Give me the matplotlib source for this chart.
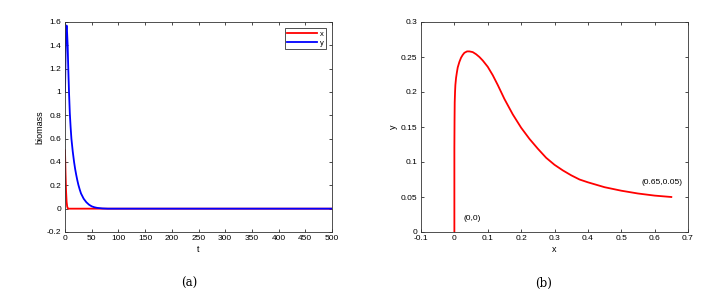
import matplotlib.pyplot as plt

plt.rcParams['font.family'] = ['Liberation Sans', 'DejaVu Sans']

# panel (a): biomass over time
t_x = [0, 0.5, 1, 2, 3, 4, 5, 6, 100, 500]
x_vals = [0.5, 0.4, 0.3, 0.15, 0.06, 0.02, 0.005, 0.0, 0.0, 0.0]
t_y = [0, 0.5, 1, 1.5, 2, 2.5, 3, 3.5, 4, 5, 6, 7.5, 9, 10.5, 12, 14.5, 17, 19, 21, 23, 25, 27.5,
       30, 35, 40, 45, 50, 55, 60, 70, 80, 500]
y_vals = [1.0, 1.15, 1.3, 1.42, 1.52, 1.56, 1.57, 1.55, 1.5, 1.4, 1.22, 1.0, 0.82, 0.7, 0.6, 0.49,
          0.4, 0.34, 0.29, 0.245, 0.205, 0.165, 0.13, 0.085, 0.055, 0.034, 0.02, 0.012, 0.007, 0.002,
          0.0, 0.0]

# panel (b): phase plane
px = [0, 0, 0.0005, 0.001, 0.002, 0.003, 0.005, 0.0075, 0.01, 0.015, 0.02, 0.025, 0.03, 0.038, 0.045,
      0.055, 0.065, 0.075, 0.085, 0.1, 0.115, 0.13, 0.15, 0.175, 0.2, 0.225, 0.25, 0.275, 0.3, 0.325,
      0.35, 0.375, 0.4, 0.45, 0.5, 0.55, 0.6, 0.65]
py = [0, 0.12, 0.16, 0.185, 0.2, 0.21, 0.22, 0.228, 0.235, 0.243, 0.249, 0.253, 0.256, 0.258, 0.258,
      0.257, 0.254, 0.25, 0.245, 0.236, 0.224, 0.21, 0.19, 0.168, 0.149, 0.133, 0.119, 0.106, 0.096,
      0.088, 0.081, 0.075, 0.071, 0.064, 0.059, 0.055, 0.052, 0.05]

fig = plt.figure(figsize=(7.19, 2.96), dpi=100)
ax1 = fig.add_axes([65/719, 1 - 232/296, 267/719, 210/296])
ax2 = fig.add_axes([421/719, 1 - 232/296, 267/719, 210/296])

fs = 6
ax1.plot(t_x, x_vals, color="#ff0000", lw=1.3, label="x")
ax1.plot(t_y, y_vals, color="#0000ff", lw=1.3, label="y")
ax1.set_xlim(0, 500)
ax1.set_ylim(-0.2, 1.6)
ax1.set_xticks(range(0, 501, 50))
ax1.set_yticks([-0.2, 0, 0.2, 0.4, 0.6, 0.8, 1, 1.2, 1.4, 1.6])
ax1.set_yticklabels(["-0.2", "0", "0.2", "0.4", "0.6", "0.8", "1", "1.2", "1.4", "1.6"])
ax1.set_xlabel("t", fontsize=6.5, labelpad=2)
ax1.set_ylabel("biomass", fontsize=6.5, labelpad=2)
leg = ax1.legend(loc="upper right", fontsize=5.5, frameon=True, fancybox=False, edgecolor="black",
                 handlelength=4, borderpad=0.3, labelspacing=0.2, handletextpad=0.3,
                 borderaxespad=0.8)
leg.get_frame().set_linewidth(0.6)

ax2.plot(px, py, color="#ff0000", lw=1.3)
ax2.set_xlim(-0.1, 0.7)
ax2.set_ylim(0, 0.3)
ax2.set_xticks([-0.1, 0, 0.1, 0.2, 0.3, 0.4, 0.5, 0.6, 0.7])
ax2.set_xticklabels(["-0.1", "0", "0.1", "0.2", "0.3", "0.4", "0.5", "0.6", "0.7"])
ax2.set_yticks([0, 0.05, 0.1, 0.15, 0.2, 0.25, 0.3])
ax2.set_yticklabels(["0", "0.05", "0.1", "0.15", "0.2", "0.25", "0.3"])
ax2.set_xlabel("x", fontsize=6.5, labelpad=2)
ax2.set_ylabel("y", fontsize=6.5, labelpad=2)
ax2.text(0.028, 0.0175, "(0,0)", fontsize=6)
ax2.text(0.562, 0.068, "(0.65,0.05)", fontsize=6)

for ax in (ax1, ax2):
    ax.tick_params(direction="in", top=True, right=True, labelsize=fs, length=2.5, width=0.5, pad=2.5)
    for s in ax.spines.values():
        s.set_linewidth(0.6)
        s.set_color("#333333")

fig.text(189/719, 1 - 283/296, "(a)", fontsize=8.5, family="DejaVu Serif", ha="center", va="center")
fig.text(544/719, 1 - 283/296, "(b)", fontsize=8.5, family="DejaVu Serif", ha="center", va="center")

fig.savefig("out.png", dpi=100)
